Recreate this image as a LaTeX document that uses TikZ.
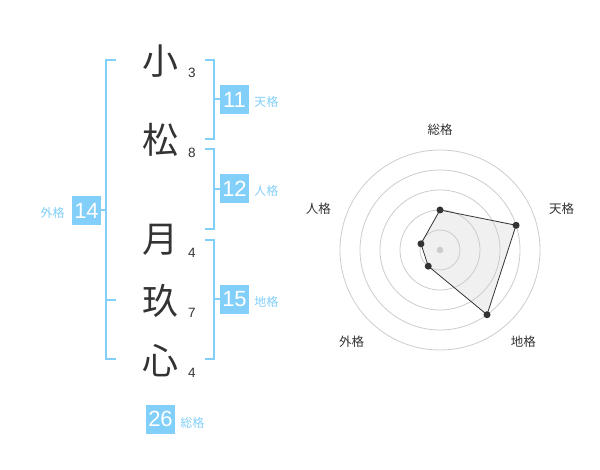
\documentclass[tikz,border=0pt]{standalone}
\usepackage{fontspec}
\setmainfont{Noto Sans CJK JP}
\newfontfamily\digitfont{Liberation Sans}
\usetikzlibrary{calc}
\definecolor{kakublue}{HTML}{82CFFA}
\definecolor{inkgray}{HTML}{333333}
\definecolor{ringgray}{HTML}{CCCCCC}
\definecolor{polyfill}{HTML}{F0F0F0}

\begin{document}
\begin{tikzpicture}[x=1pt,y=-1pt]
\tikzstyle kanji=[font=\fontsize{36}{36}\selectfont, text=inkgray, inner sep=0pt];
\tikzstyle strokenum=[font=\digitfont\fontsize{13.5}{13.5}\selectfont, text=inkgray, inner sep=0pt];
\tikzstyle kakubox=[fill=kakublue, text=white, minimum width=29pt, minimum height=29pt, inner sep=0pt, font=\digitfont\fontsize{22}{22}\selectfont];
\tikzstyle kakulabel=[text=kakublue, font=\fontsize{12}{12}\selectfont, inner sep=0pt];
\tikzstyle bracket=[draw=kakublue, line width=2pt];
\tikzstyle radarlabel=[text=inkgray, font=\fontsize{12.5}{12.5}\selectfont, inner sep=0pt];
\useasboundingbox (0,0) rectangle (600,470);

% name
\node[kanji] (ko) at (160,61) {小};
\node[kanji] (matsu) at (160,140) {松};
\node[kanji] (tsuki) at (160,240) {月};
\node[kanji] (ku) at (160,301) {玖};
\node[kanji] (kokoro) at (160,361) {心};
\node[strokenum] (n1) at (192,73) {3};
\node[strokenum] (n2) at (192,153) {8};
\node[strokenum] (n3) at (192,253) {4};
\node[strokenum] (n4) at (192,313) {7};
\node[strokenum] (n5) at (192,373) {4};

% brackets
\draw[bracket] (205,60) -- (214,60) -- (214,139) -- (205,139);
\draw[bracket] (205,149) -- (214,149) -- (214,229) -- (205,229);
\draw[bracket] (205,240) -- (214,240) -- (214,359) -- (205,359);
\draw[bracket] (116,60) -- (106,60) -- (106,359) -- (116,359);
\draw[bracket] (106,300) -- (116,300);

% boxes
\node[kakubox] (ten) at (234.5,99.5) {11};
\node[kakubox] (jin) at (234.5,189) {12};
\node[kakubox] (chi) at (234.5,299.5) {15};
\node[kakubox] (gai) at (86.5,210.5) {14};
\node[kakubox] (sou) at (160.5,419) {26};
\draw[bracket] (214,99.5) -- (ten.west);
\draw[bracket] (214,189) -- (jin.west);
\draw[bracket] (214,299.5) -- (chi.west);
\draw[bracket] (gai.east) -- (106,210.5);
\node[kakulabel, anchor=west] at ($(ten.east)+(5,2)$) {天格};
\node[kakulabel, anchor=west] at ($(jin.east)+(5,2)$) {人格};
\node[kakulabel, anchor=west] at ($(chi.east)+(5,2)$) {地格};
\node[kakulabel, anchor=east] at ($(gai.west)+(-7,2)$) {外格};
\node[kakulabel, anchor=west] at ($(sou.east)+(5,4)$) {総格};

% radar
\begin{scope}[shift={(440,250)}, yscale=-1]
\coordinate (rsou) at (90:40);
\coordinate (rten) at (18:80);
\coordinate (rchi) at (-54:80);
\coordinate (rgai) at (-126:20);
\coordinate (rjin) at (162:20);
\fill[polyfill] (rsou) -- (rten) -- (rchi) -- (rgai) -- (rjin) -- cycle;
\foreach \r in {20,40,...,100}
  \draw[ringgray, line width=0.8pt] (0,0) circle (\r pt);
\fill[ringgray] (0,0) circle (3.3pt);
\draw[inkgray, line width=0.8pt] (rsou) -- (rten) -- (rchi) -- (rgai) -- (rjin) -- cycle;
\foreach \p in {rsou,rten,rchi,rgai,rjin}
  \fill[inkgray] (\p) circle (3.5pt);
\node[radarlabel] (lsou) at (0,120) {総格};
\node[radarlabel] (lten) at (121.7,41.7) {天格};
\node[radarlabel] (lchi) at (83.3,-91.7) {地格};
\node[radarlabel] (lgai) at (-88.3,-91.7) {外格};
\node[radarlabel] (ljin) at (-121.7,41.7) {人格};
\end{scope}
\end{tikzpicture}
\end{document}
